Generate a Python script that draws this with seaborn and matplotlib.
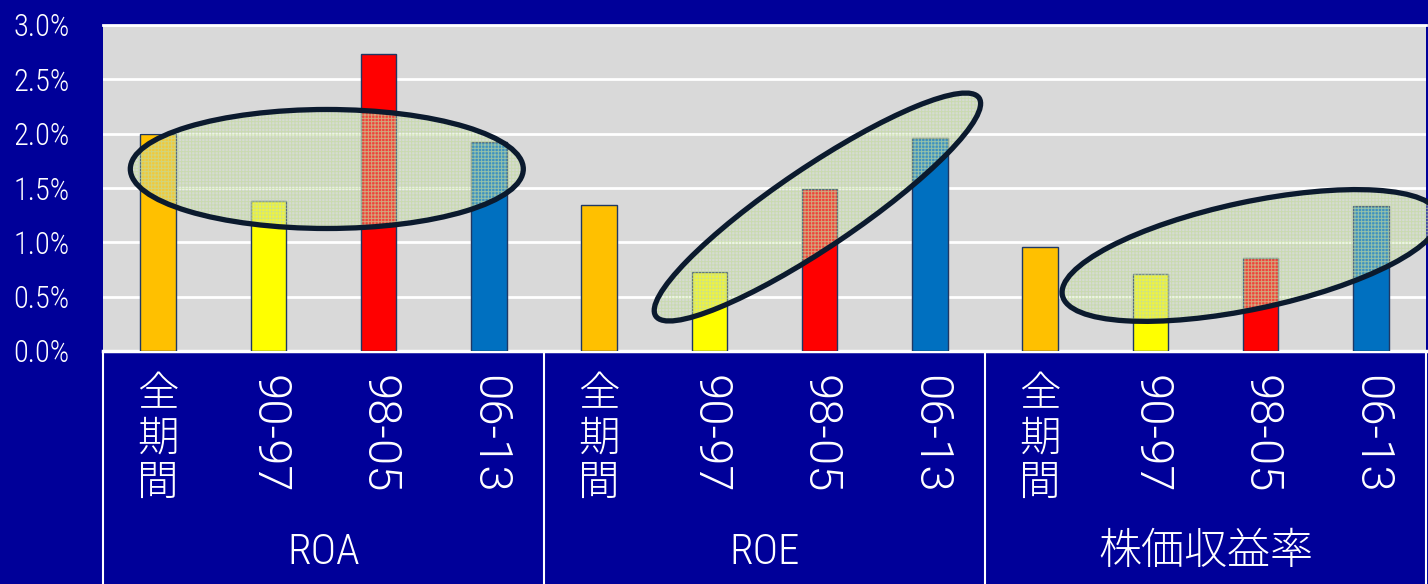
import matplotlib
matplotlib.use("Agg")
import matplotlib.pyplot as plt
import matplotlib.transforms as mtransforms
from matplotlib.patches import Ellipse
import pandas as pd
import seaborn as sns

# ---- data -------------------------------------------------------------
groups = ["ROA", "ROE", "株価収益率"]
periods = ["全期間", "90-97", "98-05", "06-13"]
roa = [2.00, 1.38, 2.73, 1.92]
roe = [1.34, 0.73, 1.49, 1.96]
per = [0.96, 0.71, 0.86, 1.33]
period_colors = ["#FFC000", "#FFFF00", "#FF0000", "#0070C0"]
y_ticks = [0.0, 0.5, 1.0, 1.5, 2.0, 2.5, 3.0]

# highlight ellipses: (centre x in bar slots, centre y in %, width in, height in, angle)
highlights = [
    (1.53, 1.675, 3.93, 1.19, 0),
    (5.98, 1.325, 3.90, 0.80, 34),
    (9.91, 0.879, 3.85, 1.07, 12),
]

# ---- styling ----------------------------------------------------------
BG = "#000099"
PLOT_BG = "#D9D9D9"
sns.set_theme(style="white")
narrow = ["Roboto Condensed", "Noto Sans CJK JP", "DejaVu Sans"]
regular = ["Roboto", "Noto Sans CJK JP", "DejaVu Sans"]
plt.rcParams["font.family"] = narrow
plt.rcParams["font.weight"] = 300
plt.rcParams["hatch.linewidth"] = 0.7

values = [roa, roe, per]
rows = []
for g, vals in zip(groups, values):
    for p, v in zip(periods, vals):
        rows.append({"key": f"{g}|{p}", "group": g, "period": p, "value": v})
df = pd.DataFrame(rows)
order = list(df["key"])

fig = plt.figure(figsize=(14.28, 5.84), dpi=100, facecolor=BG)
ax = fig.add_axes([103 / 1428, 1 - 351 / 584, (1426 - 103) / 1428, 326 / 584])
ax.set_facecolor(PLOT_BG)

sns.barplot(
    data=df, x="key", y="value", hue="period", order=order,
    hue_order=periods, palette=period_colors, saturation=1, dodge=False,
    width=0.32, edgecolor="#1F3864", linewidth=1.0, legend=False, ax=ax,
    zorder=3,
)

ax.set_xlim(-0.5, len(order) - 0.5)
ax.set_ylim(0, 3.0)
ax.set_yticks(y_ticks)
ax.set_yticklabels([f"{t:.1f}%" for t in y_ticks])
ax.yaxis.grid(True, color="white", linewidth=2.0, zorder=0)
ax.set_axisbelow(True)
ax.tick_params(axis="y", length=0, pad=24, labelcolor="white", labelsize=22)
ax.set_xlabel("")
ax.set_ylabel("")

for side in ["left", "right"]:
    ax.spines[side].set_visible(False)
ax.spines["top"].set_color("white")
ax.spines["top"].set_linewidth(2.0)
ax.spines["bottom"].set_color("white")
ax.spines["bottom"].set_linewidth(2.5)

# category labels: 全期間 upright & stacked, year ranges rotated
tick_labels = []
for _ in groups:
    for p in periods:
        tick_labels.append("\n".join(p) if not p[0].isdigit() else p)
ax.set_xticks(range(len(order)))
ax.set_xticklabels(tick_labels)
ax.tick_params(axis="x", length=0, pad=17, labelcolor="white")
for lab, p in zip(ax.get_xticklabels(), periods * len(groups)):
    lab.set_weight(300)
    if p[0].isdigit():
        lab.set_family(regular)
        lab.set_rotation(270)
        lab.set_fontsize(34)
    else:
        lab.set_family(narrow)
        lab.set_fontsize(30)
        lab.set_linespacing(1.1)

# group labels and separators in the category band
trans = mtransforms.blended_transform_factory(ax.transData, ax.transAxes)
n = len(periods)
for i, g in enumerate(groups):
    ax.text(i * n + (n - 1) / 2, -0.617, g, transform=trans, ha="center",
            va="center", color="white", fontsize=31, family=narrow,
            weight=300)
for b in range(len(groups) + 1):
    xb = b * n - 0.5
    ax.plot([xb, xb], [0, -0.75], transform=trans, color="white",
            linewidth=1.5, clip_on=False, zorder=5)

# highlight ellipses drawn in physical units so rotation is not sheared
for cx, cy, w, h, ang in highlights:
    tr = fig.dpi_scale_trans + mtransforms.ScaledTranslation(cx, cy, ax.transData)
    fill = Ellipse((0, 0), w, h, angle=ang, transform=tr,
                   facecolor=(0.82, 0.87, 0.76, 0.30),
                   edgecolor=(0.76, 0.86, 0.62, 0.65),
                   linewidth=0, hatch="+++++", zorder=6, clip_on=False)
    ax.add_patch(fill)
    ring = Ellipse((0, 0), w, h, angle=ang, transform=tr,
                   facecolor="none", edgecolor="#0B1A2E", linewidth=3.8,
                   zorder=7, clip_on=False)
    ax.add_patch(ring)

fig.savefig("out.png", dpi=100, facecolor=BG)
